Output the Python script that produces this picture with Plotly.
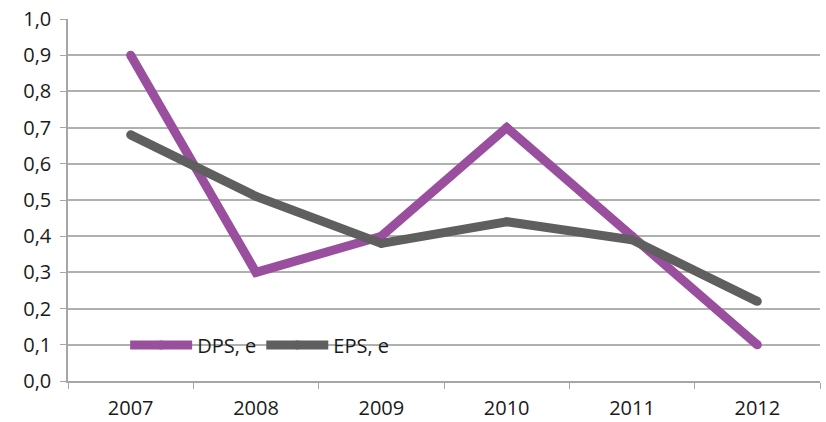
import plotly.graph_objects as go

years = ["2007", "2008", "2009", "2010", "2011", "2012"]
dps = [0.9, 0.3, 0.4, 0.7, 0.4, 0.1]
eps = [0.68, 0.51, 0.38, 0.44, 0.39, 0.22]

fig = go.Figure()
fig.add_trace(go.Scatter(x=years, y=dps, mode="lines+markers", name="DPS, e",
                         line=dict(color="#9A4E9E", width=9),
                         marker=dict(color="#9A4E9E", size=9, line=dict(width=0))))
fig.add_trace(go.Scatter(x=years, y=eps, mode="lines+markers", name="EPS, e",
                         line=dict(color="#5F5F5F", width=9),
                         marker=dict(color="#5F5F5F", size=9, line=dict(width=0))))

font = "Open Sans"
fig.update_layout(
    width=826, height=422,
    margin=dict(l=68, r=6, t=19, b=41),
    paper_bgcolor="white", plot_bgcolor="white",
    separators=", ",
    font=dict(family=font, size=20, color="#1a1a1a"),
    showlegend=True,
    legend=dict(orientation="h", x=0.076, y=0.0994, xanchor="left", yanchor="middle",
                bgcolor="rgba(0,0,0,0)", itemwidth=62, font=dict(size=20),
                traceorder="normal", tracegroupgap=0),
)
fig.update_xaxes(type="category", showgrid=False, showline=True, linecolor="#a6a6a6",
                 linewidth=1.5, ticks="outside", tickson="boundaries", ticklen=6,
                 tickcolor="#a6a6a6", range=[-0.5, 5.5], zeroline=False,
                 ticklabelstandoff=8, automargin=False)
fig.update_yaxes(range=[0, 1.0], dtick=0.1, tickformat=".1f", showgrid=True,
                 gridcolor="#b0b0b0", gridwidth=1.5, showline=True, linecolor="#a6a6a6",
                 linewidth=1.5, ticks="outside", ticklen=6, tickcolor="#a6a6a6",
                 zeroline=False, ticklabelstandoff=5, automargin=False)

fig.write_html("out.html", config={"displayModeBar": False},
               post_script="document.body.style.margin='0';document.body.style.overflow='hidden';")
